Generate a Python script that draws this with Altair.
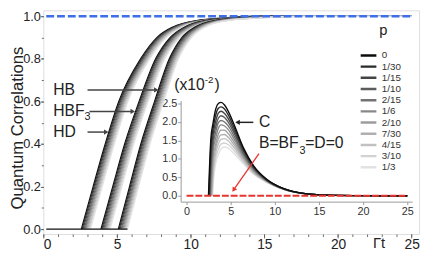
import altair as alt
import pandas as pd

# ---------------- data ----------------
P_LABELS = ["0", "1/30", "1/15", "1/10", "2/15", "1/6", "2/10", "7/30", "4/15", "3/10", "1/3"]
GRAYS = ["#0c0c0c", "#2a2a2a", "#444444", "#5c5c5c", "#737373", "#888888",
         "#9c9c9c", "#afafaf", "#c1c1c1", "#d2d2d2", "#e2e2e2"]

# main panel: time at which each curve reaches the levels below
LEVELS = [0.0, 0.2, 0.4, 0.6, 0.8, 0.9, 0.95, 0.98, 0.99, 1.0]
HB_T = [
    [2.58, 3.38, 4.20, 5.12, 6.60, 7.70, 8.80, 10.40, 11.80, 14.00],
    [2.64, 3.44, 4.26, 5.18, 6.66, 7.77, 8.87, 10.49, 11.92, 14.20],
    [2.70, 3.50, 4.32, 5.24, 6.72, 7.83, 8.94, 10.58, 12.04, 14.40],
    [2.77, 3.57, 4.39, 5.31, 6.79, 7.90, 9.01, 10.67, 12.16, 14.60],
    [2.83, 3.63, 4.45, 5.37, 6.85, 7.96, 9.08, 10.76, 12.28, 14.80],
    [2.89, 3.69, 4.51, 5.43, 6.91, 8.03, 9.15, 10.85, 12.40, 15.00],
    [2.95, 3.75, 4.57, 5.49, 6.97, 8.09, 9.22, 10.94, 12.52, 15.20],
    [3.01, 3.81, 4.63, 5.55, 7.03, 8.16, 9.29, 11.03, 12.64, 15.40],
    [3.08, 3.88, 4.70, 5.62, 7.10, 8.22, 9.36, 11.12, 12.76, 15.60],
    [3.14, 3.94, 4.76, 5.68, 7.16, 8.29, 9.43, 11.21, 12.88, 15.80],
    [3.20, 4.00, 4.82, 5.74, 7.22, 8.35, 9.50, 11.30, 13.00, 16.00],
]
HBF3_T = [
    [3.91, 4.71, 5.52, 6.50, 7.62, 8.60, 9.60, 11.00, 12.40, 14.80],
    [3.97, 4.77, 5.58, 6.56, 7.68, 8.67, 9.67, 11.09, 12.52, 15.00],
    [4.03, 4.83, 5.64, 6.62, 7.74, 8.73, 9.74, 11.18, 12.64, 15.20],
    [4.10, 4.90, 5.71, 6.69, 7.81, 8.80, 9.81, 11.27, 12.76, 15.40],
    [4.16, 4.96, 5.77, 6.75, 7.87, 8.86, 9.88, 11.36, 12.88, 15.60],
    [4.22, 5.02, 5.83, 6.81, 7.93, 8.93, 9.95, 11.45, 13.00, 15.80],
    [4.28, 5.08, 5.89, 6.87, 7.99, 8.99, 10.02, 11.54, 13.12, 16.00],
    [4.34, 5.14, 5.95, 6.93, 8.05, 9.06, 10.09, 11.63, 13.24, 16.20],
    [4.41, 5.21, 6.02, 7.00, 8.12, 9.12, 10.16, 11.72, 13.36, 16.40],
    [4.47, 5.27, 6.08, 7.06, 8.18, 9.19, 10.23, 11.81, 13.48, 16.60],
    [4.53, 5.33, 6.14, 7.12, 8.24, 9.25, 10.30, 11.90, 13.60, 16.80],
]
HD_T = [
    [5.09, 5.85, 6.62, 7.55, 8.55, 9.40, 10.30, 11.60, 13.00, 15.50],
    [5.15, 5.91, 6.68, 7.61, 8.61, 9.47, 10.37, 11.69, 13.12, 15.70],
    [5.21, 5.97, 6.74, 7.67, 8.67, 9.53, 10.44, 11.78, 13.24, 15.90],
    [5.28, 6.04, 6.81, 7.74, 8.74, 9.60, 10.51, 11.87, 13.36, 16.10],
    [5.34, 6.10, 6.87, 7.80, 8.80, 9.66, 10.58, 11.96, 13.48, 16.30],
    [5.40, 6.16, 6.93, 7.86, 8.86, 9.73, 10.65, 12.05, 13.60, 16.50],
    [5.46, 6.22, 6.99, 7.92, 8.92, 9.79, 10.72, 12.14, 13.72, 16.70],
    [5.52, 6.28, 7.05, 7.98, 8.98, 9.86, 10.79, 12.23, 13.84, 16.90],
    [5.59, 6.35, 7.12, 8.05, 9.05, 9.92, 10.86, 12.32, 13.96, 17.10],
    [5.65, 6.41, 7.18, 8.11, 9.11, 9.99, 10.93, 12.41, 14.08, 17.30],
    [5.71, 6.47, 7.24, 8.17, 9.17, 10.05, 11.00, 12.50, 14.20, 17.50],
]
T_END = 25.0
FLAT_T = [0.2, 5.71]
FLAT_Y = [0.0, 0.0]
BLUE_T = [0.2, 25.0]
BLUE_Y = [1.0, 1.0]

# inset: C (x10^-2)
C_ONSET = [2.48, 2.53, 2.58, 2.62, 2.67, 2.72, 2.77, 2.82, 2.86, 2.91, 2.96]
C_GRID = [2.75, 3.0, 3.3, 3.6, 3.9, 4.3, 4.7, 5.4, 6.5, 7.6, 9.0, 11.0, 13.0, 16.0, 20.0, 25.0]
C_VALUES = [
    [1.54, 1.97, 2.35, 2.50, 2.53, 2.46, 2.30, 1.92, 1.27, 0.81, 0.46, 0.19, 0.070, 0.015, 0.003, 0.0],
    [1.33, 1.81, 2.19, 2.37, 2.41, 2.35, 2.20, 1.84, 1.23, 0.79, 0.45, 0.19, 0.070, 0.015, 0.003, 0.0],
    [1.05, 1.65, 2.02, 2.24, 2.29, 2.23, 2.10, 1.76, 1.19, 0.76, 0.44, 0.19, 0.070, 0.015, 0.003, 0.0],
    [0.82, 1.50, 1.87, 2.10, 2.17, 2.12, 2.00, 1.69, 1.14, 0.74, 0.43, 0.18, 0.070, 0.015, 0.003, 0.0],
    [0.57, 1.35, 1.72, 1.98, 2.04, 2.00, 1.90, 1.61, 1.10, 0.72, 0.42, 0.18, 0.070, 0.015, 0.003, 0.0],
    [0.25, 1.20, 1.56, 1.83, 1.92, 1.89, 1.80, 1.53, 1.06, 0.70, 0.42, 0.18, 0.070, 0.015, 0.003, 0.0],
    [None, 1.01, 1.40, 1.67, 1.78, 1.78, 1.69, 1.45, 1.02, 0.67, 0.41, 0.18, 0.070, 0.015, 0.003, 0.0],
    [None, 0.81, 1.28, 1.54, 1.65, 1.66, 1.59, 1.37, 0.98, 0.65, 0.40, 0.18, 0.070, 0.015, 0.003, 0.0],
    [None, 0.62, 1.14, 1.40, 1.53, 1.55, 1.49, 1.30, 0.93, 0.63, 0.39, 0.18, 0.070, 0.015, 0.003, 0.0],
    [None, 0.45, 1.01, 1.25, 1.40, 1.43, 1.39, 1.22, 0.89, 0.60, 0.38, 0.17, 0.070, 0.015, 0.003, 0.0],
    [None, 0.22, 0.87, 1.11, 1.27, 1.32, 1.29, 1.14, 0.85, 0.58, 0.37, 0.17, 0.065, 0.015, 0.003, 0.0],
]
RED_T = [0.0, 25.0]
RED_V = [0.0, 0.0]

# annotations
MAIN_TXT = ["HB", "HBF", "3", "HD", "p", "Γt"]
MAIN_TXT_T = [0.67, 0.67, 2.80, 0.67, 22.8, 22.37]
MAIN_TXT_Y = [0.654, 0.553, 0.525, 0.456, 0.935, -0.065]
MAIN_TXT_FS = [16, 16, 11, 16, 15, 15]
Y_TITLE = ["Quantum Correlations"]
Y_TITLE_T = [-1.73]
Y_TITLE_Y = [0.475]
ARROW_T0 = [3.00, 3.13, 3.00]
ARROW_T1 = [7.67, 6.07, 4.27]
ARROW_Y = [0.654, 0.553, 0.456]

INSET_TXT = ["(x10", "-2", ")", "C", "B=BF", "3", "=D=0"]
INSET_TXT_T = [-1.4, 2.05, 3.15, 8.2, 8.2, 12.78, 13.44]
INSET_TXT_V = [3.0, 3.14, 3.0, 1.99, 1.44, 1.22, 1.44]
INSET_TXT_FS = [16, 10, 16, 16, 16, 11, 16]
C_ARROW = {"t": [7.56], "t2": [5.78], "v": [1.99]}
RED_ARROW = {"t": [8.2], "v": [1.14], "t2": [5.33], "v2": [0.16]}

MAIN_XTICKS = [0, 5, 10, 15, 20, 25]
MAIN_XMINOR = list(range(0, 26))
MAIN_YTICKS = [0.0, 0.2, 0.4, 0.6, 0.8, 1.0]
MAIN_YMINOR = [0.0, 0.1, 0.2, 0.3, 0.4, 0.5, 0.6, 0.7, 0.8, 0.9, 1.0]
INSET_XTICKS = [0, 5, 10, 15, 20, 25]
INSET_YTICKS = [0.0, 0.5, 1.0, 1.5, 2.0, 2.5]

# ---------------- tables ----------------
rows = []
for fam, curves in (("HB", HB_T), ("HBF3", HBF3_T), ("HD", HD_T)):
    for i in range(len(P_LABELS)):
        for t, y in zip(curves[i] + [T_END], LEVELS + [1.0]):
            rows.append({"key": f"{fam}-{i:02d}", "p": P_LABELS[i], "t": t, "y": y})
main_df = pd.DataFrame(rows)

crow = []
for i in reversed(range(len(P_LABELS))):
    crow.append({"key": f"C-{i:02d}", "p": P_LABELS[i], "t": C_ONSET[i], "v": 0.0})
    for t, v in zip(C_GRID, C_VALUES[i]):
        if v is not None:
            crow.append({"key": f"C-{i:02d}", "p": P_LABELS[i], "t": t, "v": v})
inset_df = pd.DataFrame(crow)

FONT = "Liberation Sans"

# ---------------- encodings ----------------
MX_SCALE = alt.Scale(domain=[0, 25.5], nice=False, zero=False)
MY_SCALE = alt.Scale(domain=[-0.023, 1.028], nice=False, zero=False)


def mx(field="t"):
    return alt.X(f"{field}:Q", scale=MX_SCALE,
                 axis=alt.Axis(orient="bottom", values=MAIN_XTICKS, tickSize=4, labelPadding=0,
                               labelFontSize=14, labelFont=FONT, labelColor="#222",
                               tickColor="#666", domain=False, grid=False, title=None))


def my(field="y"):
    return alt.Y(f"{field}:Q", scale=MY_SCALE,
                 axis=alt.Axis(orient="left", values=MAIN_YTICKS, format=".1f", tickSize=3,
                               labelPadding=0, labelFontSize=13, labelFont=FONT, labelColor="#222",
                               tickColor="#666", domain=False, grid=False, title=None))


IX_SCALE = alt.Scale(domain=[-0.67, 25.56], range=[140, 376], nice=False, zero=False)
IY_SCALE = alt.Scale(domain=[-0.16, 2.58], range=[195, 92], nice=False, zero=False)


def ix(field="t"):
    return alt.X(f"{field}:Q", scale=IX_SCALE,
                 axis=alt.Axis(orient="bottom", offset=-33, values=INSET_XTICKS, tickSize=3,
                               labelPadding=1, labelFontSize=11, labelFont=FONT, labelColor="#333",
                               tickColor="#999", domainColor="#999", grid=False, title=None))


def iy(field="v"):
    return alt.Y(f"{field}:Q", scale=IY_SCALE,
                 axis=alt.Axis(orient="left", offset=-140, values=INSET_YTICKS, format=".1f",
                               tickSize=3, labelPadding=1, labelFontSize=11, labelFont=FONT,
                               labelColor="#333", tickColor="#999", domainColor="#999",
                               grid=False, title=None))


COLOR = alt.Color("p:N", scale=alt.Scale(domain=P_LABELS, range=GRAYS),
                  legend=alt.Legend(orient="none", legendX=322, legendY=41, title=None,
                                    symbolType="stroke", symbolSize=256, symbolStrokeWidth=2.5,
                                    labelFontSize=10, labelFont=FONT, labelColor="#333",
                                    clipHeight=10, rowPadding=1.4, labelOffset=4, padding=0))

# ---------------- minor ticks layer ----------------
minor = alt.Chart(pd.DataFrame({"t": [0.0], "y": [0.0]})).mark_point(opacity=0).encode(
    x=alt.X("t:Q", scale=MX_SCALE,
            axis=alt.Axis(orient="bottom", values=MAIN_XMINOR, tickSize=2.5, labels=False,
                          domain=False, grid=False, title=None, tickColor="#666")),
    y=alt.Y("y:Q", scale=MY_SCALE,
            axis=alt.Axis(orient="left", values=MAIN_YMINOR, tickSize=2, labels=False,
                          domain=False, grid=False, title=None, tickColor="#666")),
)

# ---------------- main layer ----------------
main_lines = alt.Chart(main_df).mark_line(strokeWidth=1.2, interpolate="monotone").encode(
    x=mx(), y=my(), color=COLOR, detail="key:N", order="t:Q")

flat = alt.Chart(pd.DataFrame({"t": FLAT_T, "y": FLAT_Y})).mark_line(
    color="#111", strokeWidth=1.4).encode(x=mx(), y=my())

blue = alt.Chart(pd.DataFrame({"t": BLUE_T, "y": BLUE_Y})).mark_line(
    color="#3d6fe6", strokeWidth=2.5, strokeDash=[8, 3]).encode(x=mx(), y=my())

main_text = alt.Chart(pd.DataFrame({"t": MAIN_TXT_T, "y": MAIN_TXT_Y, "txt": MAIN_TXT,
                                    "fs": MAIN_TXT_FS})).mark_text(
    align="left", baseline="middle", font=FONT, color="#222").encode(
    x=mx(), y=my(), text="txt:N", size=alt.Size("fs:Q", scale=None))

y_title = alt.Chart(pd.DataFrame({"t": Y_TITLE_T, "y": Y_TITLE_Y, "txt": Y_TITLE})).mark_text(
    align="center", baseline="middle", angle=270, font=FONT, fontSize=17, color="#222").encode(
    x=mx(), y=my(), text="txt:N")

arr_df = pd.DataFrame({"t": ARROW_T0, "t2": ARROW_T1, "y": ARROW_Y})
main_arrows = alt.Chart(arr_df).mark_rule(color="#444", strokeWidth=1.5).encode(
    x=mx(), x2=alt.X2("t2"), y=my())
main_heads = alt.Chart(pd.DataFrame({"t": ARROW_T1, "y": ARROW_Y})).mark_point(
    shape="triangle-right", filled=True, size=28, color="#444", opacity=1).encode(x=mx(), y=my())

main = alt.layer(main_lines, flat, blue, main_text, y_title, main_arrows, main_heads)

# ---------------- inset layer ----------------
inset_lines = alt.Chart(inset_df).mark_line(strokeWidth=1.4, interpolate="monotone").encode(
    x=ix(), y=iy(), color=COLOR, detail="key:N", order="t:Q")

red = alt.Chart(pd.DataFrame({"t": RED_T, "v": RED_V})).mark_line(
    color="#e8342f", strokeWidth=2, strokeDash=[7, 2]).encode(x=ix(), y=iy())

inset_text = alt.Chart(pd.DataFrame({"t": INSET_TXT_T, "v": INSET_TXT_V, "txt": INSET_TXT,
                                     "fs": INSET_TXT_FS})).mark_text(
    align="left", baseline="middle", font=FONT, color="#222").encode(
    x=ix(), y=iy(), text="txt:N", size=alt.Size("fs:Q", scale=None))

c_arrow = alt.Chart(pd.DataFrame(C_ARROW)).mark_rule(color="#222", strokeWidth=1.5).encode(
    x=ix(), x2=alt.X2("t2"), y=iy())
c_head = alt.Chart(pd.DataFrame({"t": C_ARROW["t2"], "v": C_ARROW["v"]})).mark_point(
    shape="triangle-left", filled=True, size=28, color="#222", opacity=1).encode(x=ix(), y=iy())

red_arrow = alt.Chart(pd.DataFrame(RED_ARROW)).mark_rule(color="#e8342f", strokeWidth=1.3).encode(
    x=ix(), y=iy(), x2=alt.X2("t2"), y2=alt.Y2("v2"))
red_head = alt.Chart(pd.DataFrame({"t": RED_ARROW["t2"], "v": RED_ARROW["v2"]})).mark_point(
    shape="triangle-up", angle=215, filled=True, size=30, color="#e8342f", opacity=1).encode(
    x=ix(), y=iy())

inset = alt.layer(inset_lines, red, inset_text, c_arrow, c_head, red_arrow, red_head)

chart = alt.layer(minor, main, inset).resolve_scale(
    x="independent", y="independent"
).properties(
    width=383, height=228,
    autosize=alt.AutoSizeParams(type="none"),
    padding={"left": 36, "top": 0, "right": 3, "bottom": 18},
).configure_view(stroke="#999", strokeWidth=1.2).configure(background="white")

chart.save("out.html", embed_options={"renderer": "svg", "actions": False})
